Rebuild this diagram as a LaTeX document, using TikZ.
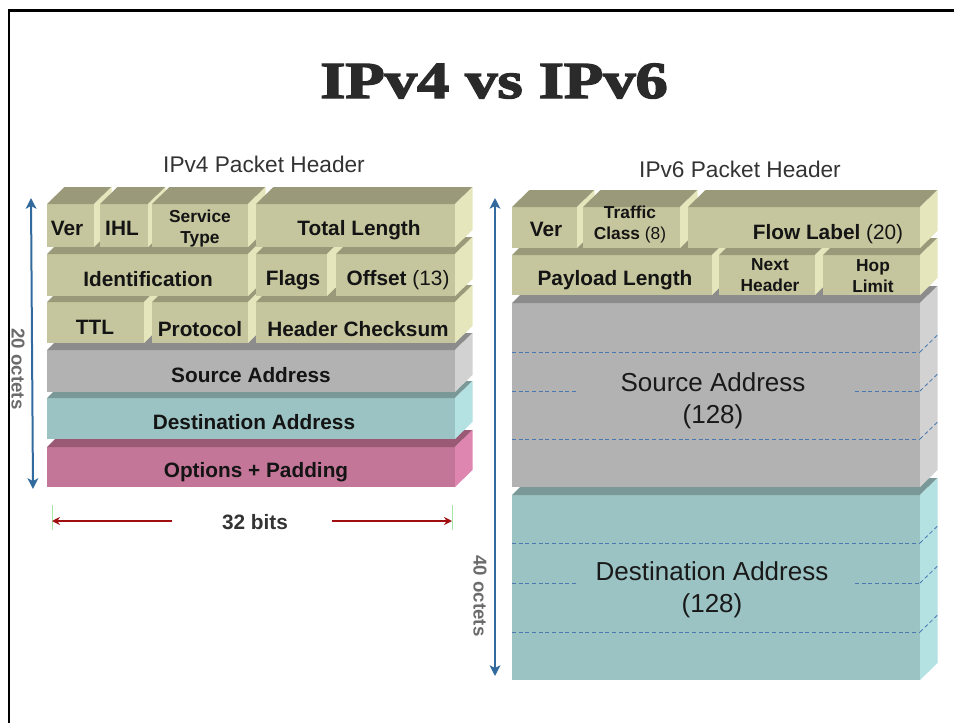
\documentclass[tikz,border=0pt]{standalone}
\usepackage{fontspec}
\usepackage{graphicx}
\setmainfont{Liberation Sans}
\newfontfamily\titlefont{Liberation Serif}[BoldFeatures={FakeBold=2.6}]
\usetikzlibrary{arrows.meta}

% face colours of the 3D header blocks (front / top / side)
\definecolor{khF}{HTML}{C6C69E}\definecolor{khT}{HTML}{9A9A7A}\definecolor{khS}{HTML}{E6E6BC}
\definecolor{grF}{HTML}{B2B2B2}\definecolor{grT}{HTML}{8C8C8C}\definecolor{grS}{HTML}{D2D2D2}
\definecolor{tlF}{HTML}{9CC3C3}\definecolor{tlT}{HTML}{7A9898}\definecolor{tlS}{HTML}{B4E1E1}
\definecolor{pkF}{HTML}{C47698}\definecolor{pkT}{HTML}{9A5A76}\definecolor{pkS}{HTML}{DE86B0}
\definecolor{arrowblue}{HTML}{336A9E}
\definecolor{dashblue}{HTML}{4A78B0}
\definecolor{bitred}{HTML}{A00E0E}
\definecolor{tickgreen}{HTML}{A8E4A8}
\definecolor{titlegray}{HTML}{2A2A2A}

\def\dep{17.5}
% extruded block: x0 y0 x1 y1 (front face, pixel units), colour prefix
\newcommand\pblock[5]{%
  \fill[#5F] (#1,#2) rectangle (#3,#4);
  \fill[#5T] (#1,#2) -- (#1+\dep,#2-17) -- (#3+\dep,#2-17) -- (#3,#2) -- cycle;
  \fill[#5S] (#3,#2) -- (#3+\dep,#2-17) -- (#3+\dep,#4-17) -- (#3,#4) -- cycle;
}
% dashed word boundary across a front face, continued on the side face
\newcommand\wordline[3]{%
  \draw[wline] (#1,#3) -- (#2,#3);
}
\newcommand\sideline[2]{%
  \draw[wline] (#1,#2) -- (#1+\dep,#2-17);
}

\begin{document}
\begin{tikzpicture}[x=0.75pt,y=-0.75pt,
  lbl/.style={font=\fontsize{15.6}{15.6}\selectfont\bfseries, text=black!92, inner sep=0, anchor=base},
  small/.style={font=\fontsize{13}{15.5}\selectfont\bfseries, text=black!92, inner sep=0, align=center, anchor=base},
  big/.style={font=\fontsize{19.5}{23.3}\selectfont, text=black!90, inner sep=0, align=center, anchor=base},
  hdr/.style={font=\fontsize{17}{20}\selectfont, text=black!80, inner sep=0, anchor=base},
  octet/.style={font=\fontsize{14}{14}\selectfont\bfseries, text=black!58, inner sep=0, rotate=-90},
  octarrow/.style={draw=arrowblue, line width=1.5pt,
    arrows={Stealth[length=8pt,width=8pt,inset=2pt]-Stealth[length=8pt,width=8pt,inset=2pt]}},
  bitarrow/.style={draw=bitred, line width=1pt, arrows={-Stealth[length=6pt,width=6pt]}},
  tick/.style={draw=tickgreen, line width=0.6pt},
  wline/.style={draw=dashblue, line width=0.6pt, dash pattern=on 3pt off 2pt},
  frame/.style={draw=black, line width=1.9pt}]

\path[use as bounding box] (0,0) rectangle (954,722);

% slide frame
\coordinate (fbl) at (8.8,724);
\coordinate (ftl) at (8.8,10.5);
\coordinate (ftr) at (956,10.5);
\draw[frame] (fbl) -- (ftl) -- (ftr);

% title
\node[anchor=base, inner sep=0, text=titlegray] (title) at (494,98)
  {\scalebox{1.24}[1]{\titlefont\fontsize{39}{39}\selectfont\bfseries IPv4 vs IPv6}};

% ---------------- IPv4 header ----------------
\node[hdr] (h4) at (264,172) {IPv4 Packet Header};

\pblock{47}{447}{455}{487}{pk}
\pblock{47}{398}{455}{439}{tl}
\pblock{47}{350}{455}{392}{gr}
\pblock{47}{302}{144}{343}{kh}
\pblock{152}{302}{248}{343}{kh}
\pblock{256}{302}{455}{343}{kh}
\pblock{47}{254}{248}{296}{kh}
\pblock{256}{254}{327}{296}{kh}
\pblock{336}{254}{455}{296}{kh}
\pblock{47}{204}{94}{247}{kh}
\pblock{100}{204}{148}{247}{kh}
\pblock{152}{204}{248}{247}{kh}
\pblock{256}{204}{455}{247}{kh}

\node[lbl] (ver4) at (67,235) {Ver};
\node[lbl] (ihl) at (122,235) {IHL};
\node[small] (tos) at (200,243) {Service\\Type};
\node[lbl] (tlen) at (359,235) {Total Length};
\node[lbl] (ident) at (148,286) {Identification};
\node[lbl] (flags) at (293,285) {Flags};
\node[lbl] (offs) at (398,285) {Offset \mdseries(13)};
\node[lbl] (ttl) at (95,334) {TTL};
\node[lbl] (proto) at (200,336) {Protocol};
\node[lbl] (csum) at (358,336) {Header Checksum};
\node[lbl] (src4) at (251,382) {Source Address};
\node[lbl] (dst4) at (254,429) {Destination Address};
\node[lbl] (opt4) at (256,477) {Options + Padding};

% height of the IPv4 header
\coordinate (o20t) at (31,198);
\coordinate (o20b) at (33,489);
\draw[octarrow] (o20t) -- (o20b);
\node[octet] (o20) at (18,369) {20 octets};

% width of a header word
\coordinate (t32l) at (52,505);
\coordinate (t32lb) at (52,530);
\coordinate (t32r) at (452,505);
\coordinate (t32rb) at (452,530);
\draw[tick] (t32l) -- (t32lb);
\draw[tick] (t32r) -- (t32rb);
\coordinate (b32li) at (172,521);
\coordinate (b32lo) at (52,521);
\coordinate (b32ri) at (332,521);
\coordinate (b32ro) at (452,521);
\draw[bitarrow] (b32li) -- (b32lo);
\draw[bitarrow] (b32ri) -- (b32ro);
\node[lbl, text=black!80] (bits) at (255,529) {32 bits};

% ---------------- IPv6 header ----------------
\node[hdr] (h6) at (740,177) {IPv6 Packet Header};

\pblock{512}{495}{920}{680}{tl}
\pblock{512}{303}{920}{487}{gr}
\pblock{512}{255}{712}{295}{kh}
\pblock{719}{255}{815}{295}{kh}
\pblock{823}{255}{920}{295}{kh}
\pblock{512}{207}{577}{248}{kh}
\pblock{583}{207}{680}{248}{kh}
\pblock{688}{207}{920}{248}{kh}

% 32-bit word boundaries inside the addresses
\wordline{512}{920}{352}\sideline{920}{352}
\wordline{512}{576}{391}\wordline{855}{920}{391}\sideline{920}{391}
\wordline{512}{920}{439}\sideline{920}{439}
\wordline{512}{920}{543}\sideline{920}{543}
\wordline{512}{576}{583}\wordline{855}{920}{583}\sideline{920}{583}
\wordline{512}{920}{632}\sideline{920}{632}

\node[lbl] (ver6) at (546,236) {Ver};
\node[small] (tclass) at (630,239) {Traffic\\Class \mdseries(8)};
\node[lbl] (flow) at (828,239) {Flow Label \mdseries(20)};
\node[lbl] (plen) at (615,285) {Payload Length};
\node[small] (nxt) at (770,291) {Next\\Header};
\node[small] (hop) at (873,292) {Hop\\Limit};
\node[big] (src6) at (713,423) {Source Address\\(128)};
\node[big] (dst6) at (712,612) {Destination Address\\(128)};

% height of the IPv6 header
\coordinate (o40t) at (495,198);
\coordinate (o40b) at (495,676);
\draw[octarrow] (o40t) -- (o40b);
\node[octet] (o40) at (480,596) {40 octets};

\end{tikzpicture}
\end{document}
